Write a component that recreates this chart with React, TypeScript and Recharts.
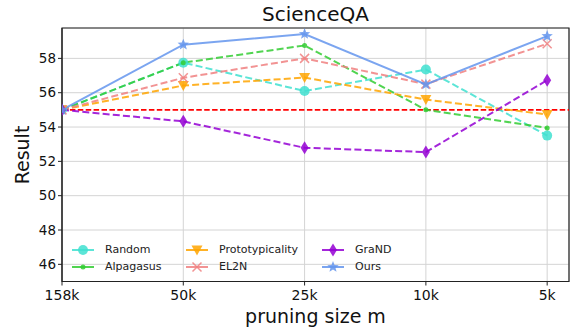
import React from "react";
import {
  LineChart,
  Line,
  XAxis,
  YAxis,
  CartesianGrid,
  ReferenceLine,
  ReferenceArea,
  Legend,
} from "recharts";

const sizeLabels = ["158k", "50k", "25k", "10k", "5k"];
const random = [55.0, 57.75, 56.1, 57.35, 53.5];
const alpagasus = [55.0, 57.75, 58.75, 55.0, 53.95];
const prototypicality = [55.0, 56.42, 56.88, 55.6, 54.73];
const el2n = [55.0, 56.87, 58.0, 56.5, 58.85];
const grand = [55.0, 54.33, 52.79, 52.54, 56.73];
const ours = [55.0, 58.8, 59.42, 56.48, 59.3];
const baseline = 55.0;
const yTicks = [46, 48, 50, 52, 54, 56, 58];

const data = sizeLabels.map((label, i) => ({
  x: i,
  label,
  random: random[i],
  alpagasus: alpagasus[i],
  prototypicality: prototypicality[i],
  el2n: el2n[i],
  grand: grand[i],
  ours: ours[i],
}));

const FONT = "'DejaVu Sans', sans-serif";

type Kind = "circle" | "point" | "tri" | "x" | "diamond" | "star";

const Marker = ({ kind, cx, cy, color }: { kind: Kind; cx: number; cy: number; color: string }) => {
  if (cx == null || cy == null) return null;
  const op = 0.85;
  if (kind === "circle") return <circle cx={cx} cy={cy} r={5} fill={color} fillOpacity={op} />;
  if (kind === "point") return <circle cx={cx} cy={cy} r={2.5} fill={color} fillOpacity={op} />;
  if (kind === "tri")
    return (
      <polygon
        points={`${cx - 5.5},${cy - 4.5} ${cx + 5.5},${cy - 4.5} ${cx},${cy + 5.5}`}
        fill={color}
        fillOpacity={op}
      />
    );
  if (kind === "x")
    return (
      <path
        d={`M${cx - 4.5},${cy - 4.5}L${cx + 4.5},${cy + 4.5}M${cx - 4.5},${cy + 4.5}L${cx + 4.5},${cy - 4.5}`}
        stroke={color}
        strokeWidth={1.5}
        strokeOpacity={op}
      />
    );
  if (kind === "diamond")
    return (
      <polygon
        points={`${cx},${cy - 6.5} ${cx + 4},${cy} ${cx},${cy + 6.5} ${cx - 4},${cy}`}
        fill={color}
        fillOpacity={op}
      />
    );
  const pts: string[] = [];
  for (let k = 0; k < 10; k++) {
    const r = k % 2 === 0 ? 6 : 2.6;
    const a = -Math.PI / 2 + (k * Math.PI) / 5;
    pts.push(`${cx + r * Math.cos(a)},${cy + r * Math.sin(a)}`);
  }
  return <polygon points={pts.join(" ")} fill={color} fillOpacity={op} />;
};

const series: { key: string; name: string; color: string; kind: Kind; dash?: string }[] = [
  { key: "random", name: "Random", color: "#40E0D0", kind: "circle", dash: "7 3.2" },
  { key: "alpagasus", name: "Alpagasus", color: "#32CD32", kind: "point", dash: "7 3.2" },
  { key: "prototypicality", name: "Prototypicality", color: "#FFA500", kind: "tri", dash: "7 3.2" },
  { key: "el2n", name: "EL2N", color: "#F08080", kind: "x", dash: "7 3.2" },
  { key: "grand", name: "GraND", color: "#9400D3", kind: "diamond", dash: "7 3.2" },
  { key: "ours", name: "Ours", color: "#6495ED", kind: "star" },
];

const colWidths = [114, 136, 90];

const LegendBox = () => (
  <div style={{ position: "absolute", left: 72, top: 241, display: "flex", fontFamily: FONT, fontSize: 11 }}>
    {[0, 1, 2].map((c) => (
      <div key={c} style={{ width: colWidths[c] }}>
        {series.slice(c * 2, c * 2 + 2).map((s) => (
          <div key={s.key} style={{ display: "flex", alignItems: "center", height: 17 }}>
            <svg width={22} height={14} style={{ marginRight: 11 }}>
              <line x1={0} y1={7} x2={22} y2={7} stroke={s.color} strokeWidth={2} strokeOpacity={0.85} />
              <Marker kind={s.kind} cx={11} cy={7} color={s.color} />
            </svg>
            <span style={{ color: "#222" }}>{s.name}</span>
          </div>
        ))}
      </div>
    ))}
  </div>
);

const textStyle: React.CSSProperties = {
  position: "absolute",
  fontFamily: FONT,
  fontSize: 19,
  color: "#111",
  whiteSpace: "nowrap",
  lineHeight: "22px",
};

export default function App() {
  return (
    <div style={{ position: "absolute", left: 0, top: 0, width: 574, height: 331, background: "#fff" }}>
      <div style={{ ...textStyle, left: 62, width: 507, top: 3, textAlign: "center", fontSize: 20 }}>ScienceQA</div>
      <div style={{ ...textStyle, left: 62, width: 507, top: 305, textAlign: "center" }}>pruning size m</div>
      <div
        style={{
          ...textStyle,
          left: 22,
          top: 155,
          transform: "translate(-50%, -50%) rotate(-90deg)",
        }}
      >
        Result
      </div>
      <LineChart width={574} height={331} data={data} margin={{ top: 28, right: 5, bottom: 0, left: 0 }}>
        <CartesianGrid stroke="#d4d4d4" strokeWidth={1} />
        <XAxis
          dataKey="x"
          type="number"
          domain={[0, 4.18]}
          ticks={[0, 1, 2, 3, 4]}
          tickFormatter={(v: number) => sizeLabels[v]}
          height={49.5}
          tickSize={4}
          stroke="#222"
          tick={{ fill: "#111", fontSize: 14, fontFamily: FONT, dy: 3 }}
          allowDataOverflow
        />
        <YAxis
          type="number"
          domain={[45, 59.77]}
          ticks={yTicks}
          width={62}
          tickSize={4}
          stroke="#222"
          allowDataOverflow
          tick={{ fill: "#111", fontSize: 13.5, fontFamily: FONT }}
        />
        <ReferenceLine y={baseline} stroke="#ff0000" strokeWidth={1.6} strokeDasharray="5.5 2.4" />
        {series.map((s) => (
          <Line
            key={s.key}
            dataKey={s.key}
            name={s.name}
            stroke={s.color}
            strokeOpacity={0.85}
            strokeWidth={2}
            strokeDasharray={s.dash}
            isAnimationActive={false}
            dot={(p: any) => <Marker key={`${s.key}-${p.index}`} kind={s.kind} cx={p.cx} cy={p.cy} color={s.color} />}
            activeDot={false}
          />
        ))}
        <ReferenceArea x1={0} x2={4.18} y1={45} y2={59.77} fill="none" stroke="#222" strokeWidth={1.2} ifOverflow="visible" />
        <Legend verticalAlign="middle" align="center" layout="horizontal" content={() => null} />
      </LineChart>
      <LegendBox />
    </div>
  );
}
